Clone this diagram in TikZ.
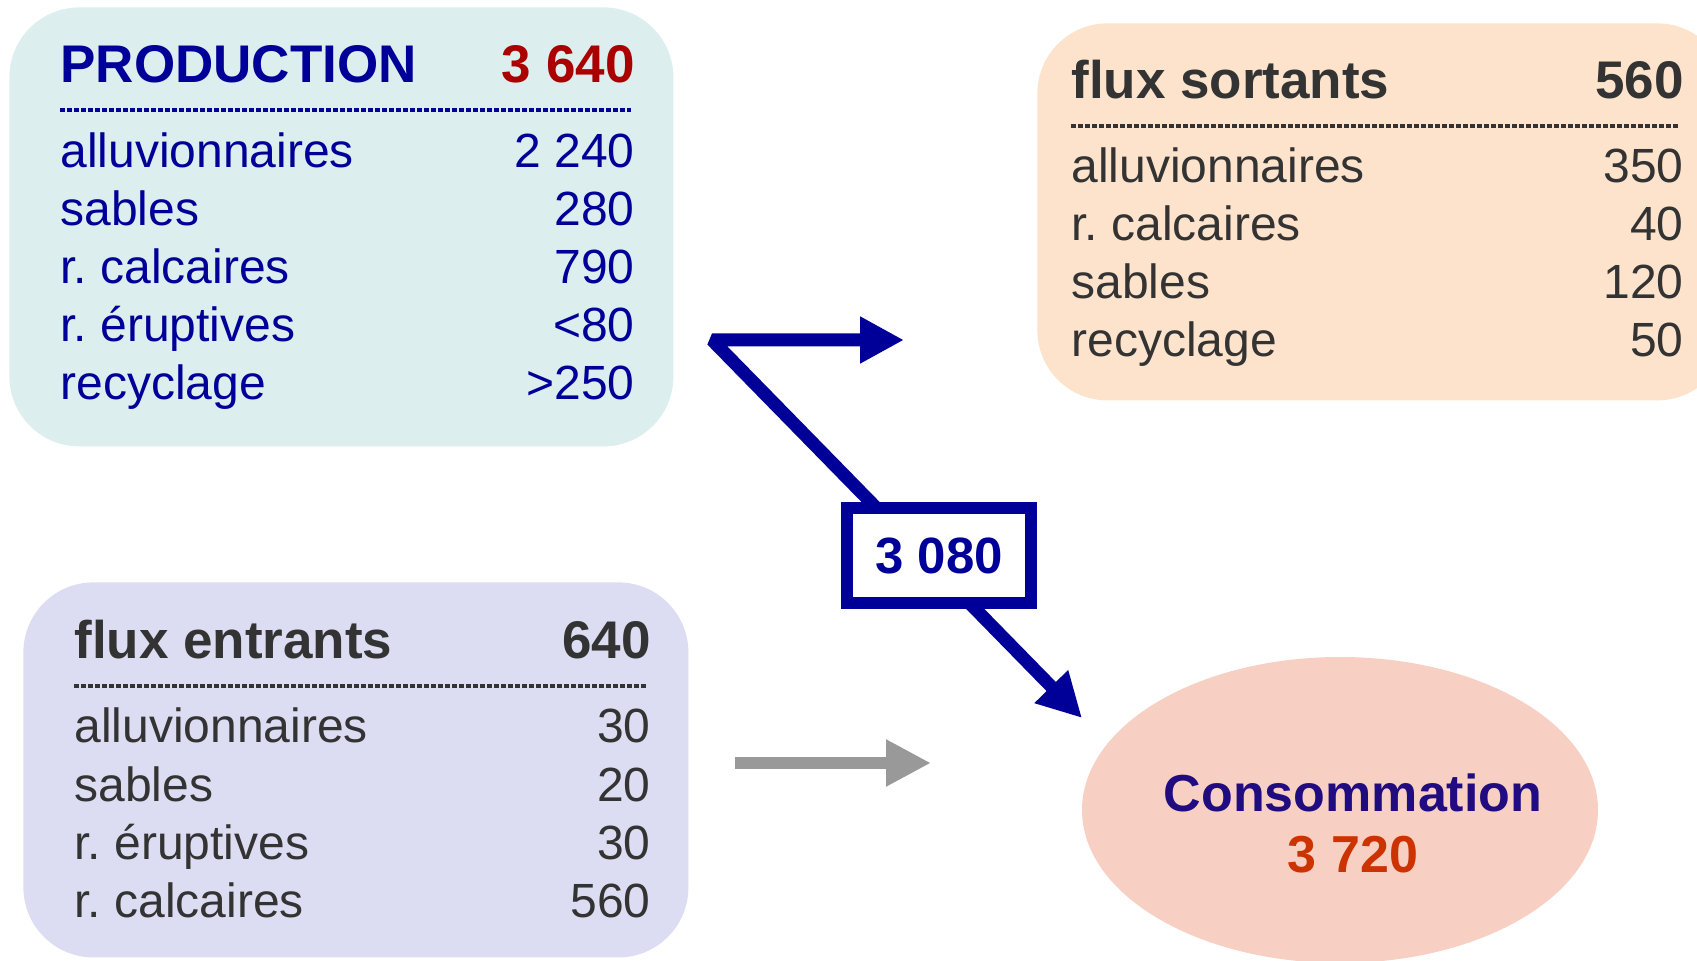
\documentclass[tikz,border=0pt]{standalone}
\usepackage{fontspec}
\setmainfont{Liberation Sans}
\usetikzlibrary{shapes.geometric,arrows.meta}
\frenchspacing

\definecolor{navy}{HTML}{000099}
\definecolor{prodred}{HTML}{AA0000}
\definecolor{darkgray}{HTML}{333333}
\definecolor{prodfill}{HTML}{DDEEEE}
\definecolor{sortfill}{HTML}{FDE3CB}
\definecolor{entfill}{HTML}{DCDCF2}
\definecolor{consfill}{HTML}{F7CFC3}
\definecolor{consblue}{HTML}{200C80}
\definecolor{consred}{HTML}{CC3300}
\definecolor{arrowgray}{HTML}{999999}

\tikzset{
  panel/.style={rectangle, rounded corners=35pt, draw=none, inner sep=0pt, anchor=north west},
  rowtxt/.style={font=\fontsize{24}{24}\selectfont, inner sep=0pt},
  titletxt/.style={font=\fontsize{26.5}{26.5}\selectfont\bfseries, inner sep=0pt},
  rowleft/.style={rowtxt, anchor=base west},
  rowright/.style={rowtxt, anchor=base east},
  titleleft/.style={titletxt, anchor=base west},
  titleright/.style={titletxt, anchor=base east},
  dashrule/.style={dash pattern=on 2.5pt off 1pt, line width=1.6pt},
  bluehead/.tip={Triangle[length=22pt,width=22pt]},
  grayhead/.tip={Triangle[length=22.5pt,width=22pt]},
}

\begin{document}
\begin{tikzpicture}[x=0.5pt,y=-0.5pt]
\useasboundingbox (0,0) rectangle (1697,961);
\clip (0,0) rectangle (1697,961);

% ---------- panels ----------
\node[panel, fill=prodfill, minimum width=332pt, minimum height=219.5pt] (prod) at (9,7) {};
\node[panel, fill=sortfill, minimum width=345pt, minimum height=188.5pt] (sort) at (1037,23) {};
\node[panel, fill=entfill, minimum width=332.5pt, minimum height=187.5pt] (ent) at (23,582) {};
\node[ellipse, fill=consfill, draw=none, minimum width=258pt, minimum height=153pt, inner sep=0pt] (cons) at (1340,810) {};

% ---------- PRODUCTION ----------
\begin{scope}[text=navy]
\node[titleleft] (prodT) at (60,83) {PRODUCTION};
\node[titleright, text=prodred] (prodV) at (635,83) {3 640};
\draw[dashrule, navy] (60,110) -- (631,110);
\node[rowleft] (p1) at (60,168) {alluvionnaires};
\node[rowright] (p1v) at (635,168) {2 240};
\node[rowleft] (p2) at (60,226) {sables};
\node[rowright] (p2v) at (635,226) {280};
\node[rowleft] (p3) at (60,284) {r. calcaires};
\node[rowright] (p3v) at (635,284) {790};
\node[rowleft] (p4) at (60,342) {r. éruptives};
\node[rowright] (p4v) at (635,342) {<80};
\node[rowleft] (p5) at (60,400) {recyclage};
\node[rowright] (p5v) at (635,400) {>250};
\end{scope}

% ---------- flux sortants ----------
\begin{scope}[text=darkgray]
\node[titleleft] (sortT) at (1071,99) {flux sortants};
\node[titleright] (sortV) at (1684,99) {560};
\draw[dashrule, darkgray] (1071,126) -- (1678,126);
\node[rowleft] (s1) at (1071,183) {alluvionnaires};
\node[rowright] (s1v) at (1684,183) {350};
\node[rowleft] (s2) at (1071,241) {r. calcaires};
\node[rowright] (s2v) at (1684,241) {40};
\node[rowleft] (s3) at (1071,299) {sables};
\node[rowright] (s3v) at (1684,299) {120};
\node[rowleft] (s4) at (1071,357) {recyclage};
\node[rowright] (s4v) at (1684,357) {50};
\end{scope}

% ---------- flux entrants ----------
\begin{scope}[text=darkgray]
\node[titleleft] (entT) at (74,659) {flux entrants};
\node[titleright] (entV) at (651,659) {640};
\draw[dashrule, darkgray] (74,686) -- (648,686);
\node[rowleft] (e1) at (74,743) {alluvionnaires};
\node[rowright] (e1v) at (651,743) {30};
\node[rowleft] (e2) at (74,801) {sables};
\node[rowright] (e2v) at (651,801) {20};
\node[rowleft] (e3) at (74,859) {r. éruptives};
\node[rowright] (e3v) at (651,859) {30};
\node[rowleft] (e4) at (74,917) {r. calcaires};
\node[rowright] (e4v) at (651,917) {560};
\end{scope}

% ---------- consommation ----------
\node[titletxt, font=\fontsize{26}{26}\selectfont\bfseries, anchor=base, text=consblue] (consT) at (1353,812) {Consommation};
\node[titletxt, font=\fontsize{26}{26}\selectfont\bfseries, anchor=base, text=consred] (consV) at (1353,872) {3 720};

% ---------- arrows ----------
\coordinate (split) at (712,340);
\coordinate (outTip) at (904,340);
\coordinate (consTip) at (1082,718);
\draw[line width=6.5pt, navy, line join=bevel, bluehead-bluehead] (outTip) -- (split) -- (consTip);

\node[draw=navy, line width=6pt, fill=white, minimum width=92pt, minimum height=47.5pt, inner sep=0pt,
      font=\fontsize{25.5}{25.5}\selectfont\bfseries, text=navy] (flowlabel) at (939,555.5) {3 080};

\coordinate (gStart) at (735,763);
\coordinate (gTip) at (931,763);
\draw[line width=6pt, arrowgray, -grayhead] (gStart) -- (gTip);
\end{tikzpicture}
\end{document}
